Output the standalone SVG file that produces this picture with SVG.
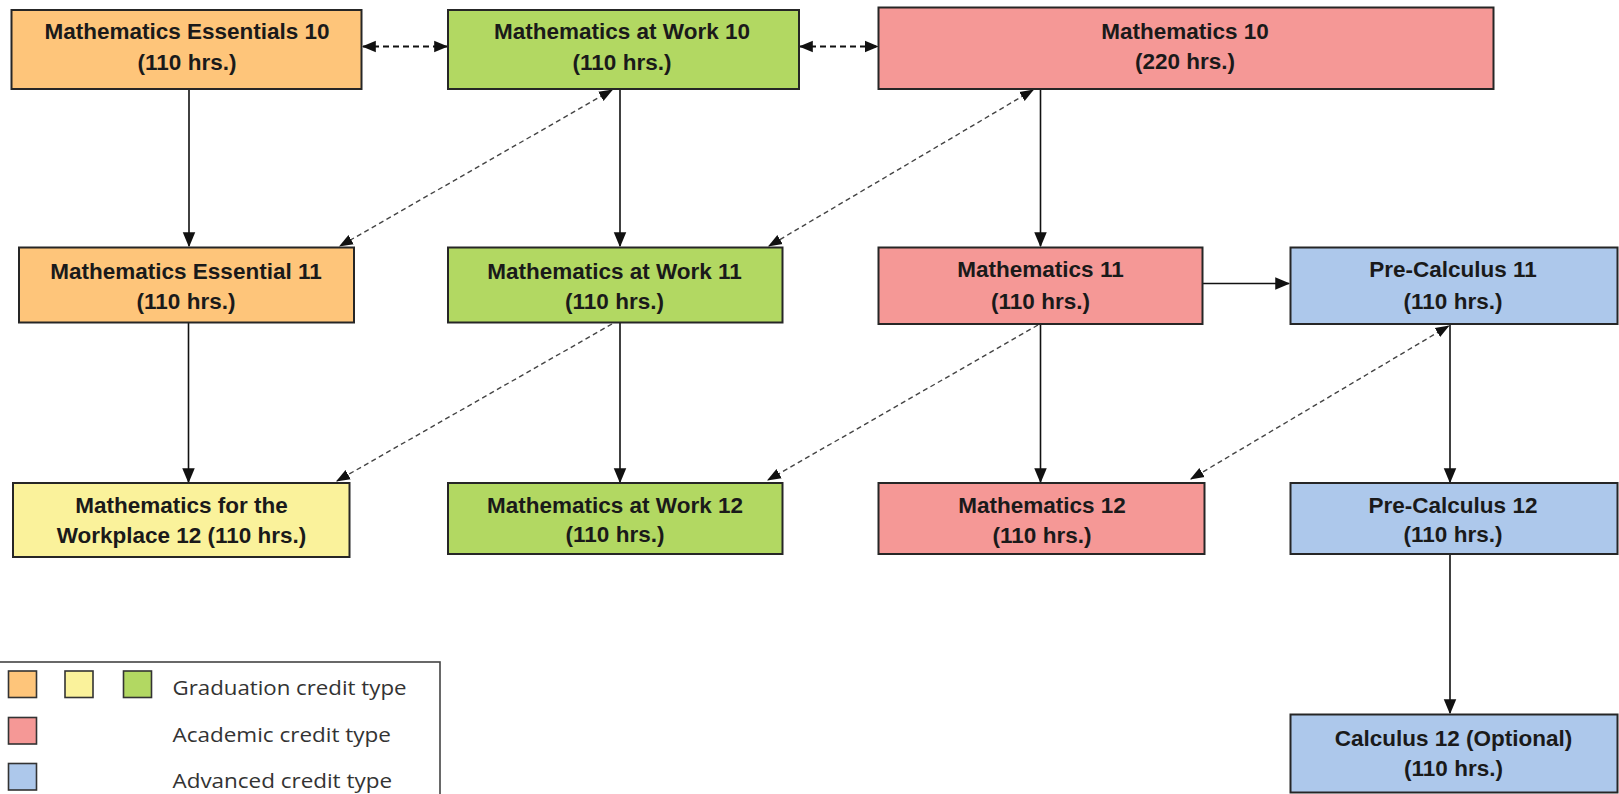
<svg xmlns="http://www.w3.org/2000/svg" width="1619" height="794" viewBox="0 0 1619 794">
<style>
.box{stroke:#262626;stroke-width:2}
.org{fill:#FEC57A}.yel{fill:#FAF29B}.grn{fill:#B2D862}.pnk{fill:#F59896}.blu{fill:#ADC8EB}
.t{font-family:"Liberation Sans",Arial,sans-serif;font-weight:bold;font-size:22.5px;fill:#1a1a1a;text-anchor:middle}
.solid{stroke:#111;stroke-width:1.6;fill:none;marker-end:url(#ah)}
.hd{stroke:#111;stroke-width:2;stroke-dasharray:6 4;fill:none;marker-start:url(#ah2);marker-end:url(#ah2)}
.dg{stroke:#444;stroke-width:1.4;stroke-dasharray:5 3.5;fill:none}
.lg{font-family:"Open Sans","Liberation Sans",sans-serif;font-size:20px;fill:#333}
</style>
<defs>
<marker id="ah" markerUnits="userSpaceOnUse" markerWidth="15" markerHeight="15" viewBox="0 0 12 12" refX="11" refY="6" orient="auto-start-reverse"><path d="M0,1 L12,6 L0,11 Z" fill="#111"/></marker>
<marker id="ah2" markerUnits="userSpaceOnUse" markerWidth="14" markerHeight="14" viewBox="0 0 12 12" refX="11" refY="6" orient="auto-start-reverse"><path d="M0,1 L12,6 L0,11 Z" fill="#111"/></marker>
<marker id="ad" markerUnits="userSpaceOnUse" markerWidth="14" markerHeight="14" viewBox="0 0 12 12" refX="11" refY="6" orient="auto-start-reverse"><path d="M0,1.5 L12,6 L0,10.5 Z" fill="#111"/></marker>
</defs>

<g id="connectors">
<line class="solid" x1="189" y1="89" x2="189" y2="246"/>
<line class="solid" x1="188.5" y1="323" x2="188.5" y2="482"/>
<line class="solid" x1="620" y1="89" x2="620" y2="246"/>
<line class="solid" x1="620" y1="323" x2="620" y2="482"/>
<line class="solid" x1="1040.5" y1="89" x2="1040.5" y2="246"/>
<line class="solid" x1="1040.5" y1="324" x2="1040.5" y2="482"/>
<line class="solid" x1="1203" y1="283.5" x2="1289" y2="283.5"/>
<line class="solid" x1="1450" y1="324" x2="1450" y2="482"/>
<line class="solid" x1="1450" y1="554" x2="1450" y2="713"/>
<line class="hd" x1="363" y1="46.5" x2="447" y2="46.5"/>
<line class="hd" x1="800" y1="46.5" x2="877.5" y2="46.5"/>
<line class="dg" x1="612" y1="90" x2="340" y2="246" marker-start="url(#ad)" marker-end="url(#ad)"/>
<line class="dg" x1="1033" y1="90" x2="769" y2="246" marker-start="url(#ad)" marker-end="url(#ad)"/>
<line class="dg" x1="612" y1="324" x2="337" y2="481" marker-end="url(#ad)"/>
<line class="dg" x1="1038" y1="325" x2="768" y2="480" marker-end="url(#ad)"/>
<line class="dg" x1="1448.5" y1="326" x2="1191" y2="479" marker-start="url(#ad)" marker-end="url(#ad)"/>
</g>

<g id="ess10"><rect class="box org" x="11.5" y="10" width="350" height="79"/><text class="t" x="187" y="39">Mathematics Essentials 10</text><text class="t" x="187" y="70">(110 hrs.)</text></g>
<g id="work10"><rect class="box grn" x="448" y="10" width="351" height="79"/><text class="t" x="622" y="39">Mathematics at Work 10</text><text class="t" x="622" y="70">(110 hrs.)</text></g>
<g id="math10"><rect class="box pnk" x="878.5" y="7.5" width="615" height="81.5"/><text class="t" x="1185" y="39">Mathematics 10</text><text class="t" x="1185" y="69">(220 hrs.)</text></g>

<g id="ess11"><rect class="box org" x="19" y="247.5" width="335" height="75"/><text class="t" x="186" y="278.5">Mathematics Essential 11</text><text class="t" x="186" y="308.5">(110 hrs.)</text></g>
<g id="work11"><rect class="box grn" x="448" y="247.5" width="334.5" height="75"/><text class="t" x="614.5" y="278.5">Mathematics at Work 11</text><text class="t" x="614.5" y="308.5">(110 hrs.)</text></g>
<g id="math11"><rect class="box pnk" x="878.5" y="247.5" width="324" height="76.5"/><text class="t" x="1040.5" y="277">Mathematics 11</text><text class="t" x="1040.5" y="308.5">(110 hrs.)</text></g>
<g id="pc11"><rect class="box blu" x="1290.5" y="247.5" width="327" height="76.5"/><text class="t" x="1453" y="277">Pre-Calculus 11</text><text class="t" x="1453" y="308.5">(110 hrs.)</text></g>

<g id="wp12"><rect class="box yel" x="13" y="483" width="336.5" height="74"/><text class="t" x="181.5" y="512.5">Mathematics for the</text><text class="t" x="181.5" y="543">Workplace 12 (110 hrs.)</text></g>
<g id="work12"><rect class="box grn" x="448" y="483" width="334.5" height="71"/><text class="t" x="615" y="512.5">Mathematics at Work 12</text><text class="t" x="615" y="542">(110 hrs.)</text></g>
<g id="math12"><rect class="box pnk" x="878.5" y="483" width="326" height="71"/><text class="t" x="1042" y="512.5">Mathematics 12</text><text class="t" x="1042" y="543">(110 hrs.)</text></g>
<g id="pc12"><rect class="box blu" x="1290.5" y="483" width="327" height="71"/><text class="t" x="1453" y="512.5">Pre-Calculus 12</text><text class="t" x="1453" y="542">(110 hrs.)</text></g>
<g id="calc12"><rect class="box blu" x="1290.5" y="714.5" width="327" height="78"/><text class="t" x="1453.5" y="745.5">Calculus 12 (Optional)</text><text class="t" x="1453.5" y="776">(110 hrs.)</text></g>

<g id="legend">
<rect x="-1" y="662" width="441" height="140" fill="#fff" stroke="#444" stroke-width="1.6"/>
<rect class="org" x="8.5" y="671" width="28" height="26.5" stroke="#333" stroke-width="1.6"/>
<rect class="yel" x="65" y="671" width="28" height="26.5" stroke="#333" stroke-width="1.6"/>
<rect class="grn" x="123.5" y="671" width="28" height="26.5" stroke="#333" stroke-width="1.6"/>
<rect class="pnk" x="8.5" y="717.5" width="28" height="26.5" stroke="#333" stroke-width="1.6"/>
<rect class="blu" x="8.5" y="763.5" width="28" height="26.5" stroke="#333" stroke-width="1.6"/>
<text class="lg" x="172.5" y="695" textLength="234" lengthAdjust="spacingAndGlyphs">Graduation credit type</text>
<text class="lg" x="172.5" y="741.5" textLength="218.5" lengthAdjust="spacingAndGlyphs">Academic credit type</text>
<text class="lg" x="172.5" y="788" textLength="219.5" lengthAdjust="spacingAndGlyphs">Advanced credit type</text>
</g>
</svg>
